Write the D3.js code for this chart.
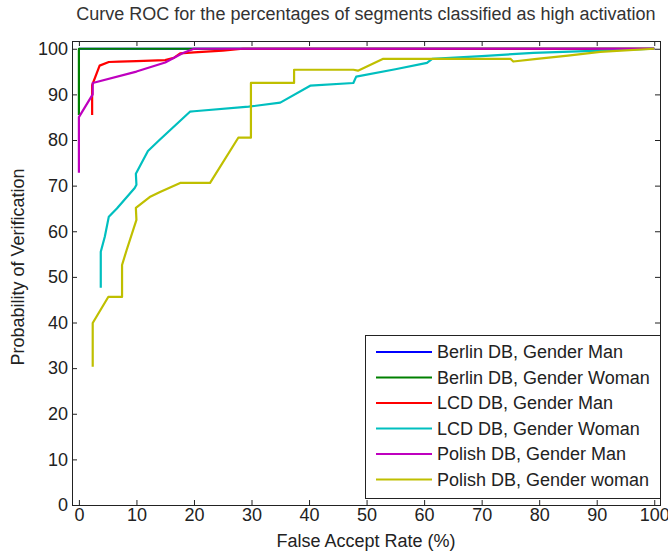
<!DOCTYPE html>
<html>
<head>
<meta charset="utf-8">
<script src="https://cdn.jsdelivr.net/npm/d3@7"></script>
<style>
  body { margin: 0; background: #fff; }
  svg { display: block; font-family: "Liberation Sans", Arial, sans-serif; }
</style>
</head>
<body>
<div id="chart"></div>
<script>
// ROC curves, percentages of segments classified as high activation.
// Values: [FAR %, probability of verification].

const seriesNames = [
  "Berlin DB, Gender Man",
  "Berlin DB, Gender Woman",
  "LCD DB, Gender Man",
  "LCD DB, Gender Woman",
  "Polish DB, Gender Man",
  "Polish DB, Gender woman",
];
const seriesColors = ["#0000ff", "#008000", "#ff0000", "#00bfbf", "#bf00bf", "#bfbf00"];

const berlinMan = [[0, 100], [100, 100]];
const berlinWoman = [[0, 85.5], [0, 100], [100, 100]];
const lcdMan = [
  [2.3, 85.5], [2.3, 92], [3.6, 96.3], [5.2, 97.1], [7, 97.2], [10, 97.3],
  [15, 97.5], [16.5, 98], [17.6, 99], [20, 99.2], [25, 99.6], [28.5, 100], [100, 100],
];
const lcdWoman = [
  [3.8, 47.6], [3.8, 55.5], [4.5, 58.8], [5.2, 63.2], [6.6, 65], [9.7, 69.5],
  [10, 70.2], [9.9, 72.6], [12, 77.6], [14, 80], [19.3, 86.2], [20, 86.3],
  [29.5, 87.3], [35, 88.2], [40.2, 91.9], [47.7, 92.5], [48.2, 93.9],
  [55, 95.5], [60.5, 96.9], [61.4, 97.8], [70, 98.4], [79, 99.1],
  [90.6, 99.6], [100, 100],
];
const polishMan = [
  [0, 72.8], [0, 85], [2.4, 90], [2.4, 92.5], [10, 95], [15, 97],
  [18, 99], [20, 100], [100, 100],
];
const polishWoman = [
  [2.4, 30.3], [2.4, 39.9], [5.1, 45.6], [7.5, 45.6], [7.5, 52.6], [8.3, 55.9],
  [10, 62.5], [9.9, 65.1], [12.3, 67.5], [14.1, 68.6], [17.6, 70.6], [22.8, 70.6],
  [27.7, 80.5], [29.9, 80.5], [29.9, 92.5], [37.4, 92.5], [37.4, 95.4],
  [47.7, 95.4], [48.5, 95.2], [52.9, 97.8], [75, 97.8], [75.5, 97.2],
  [79.6, 97.8], [85, 98.5], [90.6, 99.3], [100, 100],
];
const seriesData = [berlinMan, berlinWoman, lcdMan, lcdWoman, polishMan, polishWoman];

const xTicks = [0, 10, 20, 30, 40, 50, 60, 70, 80, 90, 100];
const yTicks = [0, 10, 20, 30, 40, 50, 60, 70, 80, 90, 100];

const width = 668, height = 551;
const plotL = 72, plotR = 660, plotT = 41, plotB = 505;

const svg = d3.select("#chart").append("svg")
  .attr("width", width)
  .attr("height", height);

const x = d3.scaleLinear().domain([-1.2, 101]).range([plotL, plotR]);
const y = d3.scaleLinear().domain([0, 101.7]).range([plotB, plotT]);

// axes: MATLAB style box, ticks pointing inward on all four sides
const styleAxis = g => {
  g.select(".domain").remove();
  g.selectAll(".tick line").attr("stroke", "#222");
  g.selectAll(".tick text").attr("fill", "#222").style("font-size", "18px")
    .style("font-family", "'Liberation Sans', Arial, sans-serif");
};

svg.append("g")
  .attr("transform", `translate(0,${plotB})`)
  .call(d3.axisBottom(x).tickValues(xTicks).tickSize(-5).tickPadding(3))
  .call(styleAxis);
svg.append("g")
  .attr("transform", `translate(0,${plotT})`)
  .call(d3.axisTop(x).tickValues(xTicks).tickSize(-5).tickFormat(""))
  .call(styleAxis);
svg.append("g")
  .attr("transform", `translate(${plotL},0)`)
  .call(d3.axisLeft(y).tickValues(yTicks).tickSize(-5).tickPadding(4))
  .call(styleAxis);
svg.append("g")
  .attr("transform", `translate(${plotR},0)`)
  .call(d3.axisRight(y).tickValues(yTicks).tickSize(-5).tickFormat(""))
  .call(styleAxis);

svg.append("rect")
  .attr("x", plotL + 0.5).attr("y", plotT + 0.5)
  .attr("width", plotR - plotL).attr("height", plotB - plotT)
  .attr("fill", "none").attr("stroke", "#222");

// curves
const line = d3.line().x(d => x(d[0])).y(d => y(d[1]));
svg.append("g").selectAll("path")
  .data(seriesData)
  .join("path")
  .attr("d", line)
  .attr("fill", "none")
  .attr("stroke", (d, i) => seriesColors[i])
  .attr("stroke-width", 2.2)
  .attr("stroke-linejoin", "round");

// legend
const lgX = 365, lgY = 335, lgW = 295, lgH = 163, rowH = 25.5;
svg.append("rect")
  .attr("x", lgX + 0.5).attr("y", lgY + 0.5)
  .attr("width", lgW).attr("height", lgH)
  .attr("fill", "#fff").attr("stroke", "#222");

const rows = svg.append("g").selectAll("g")
  .data(seriesNames)
  .join("g")
  .attr("transform", (d, i) => `translate(${lgX},${lgY + 17 + i * rowH})`);
rows.append("line")
  .attr("x1", 11).attr("x2", 67)
  .attr("stroke", (d, i) => seriesColors[i])
  .attr("stroke-width", 2.2);
rows.append("text")
  .attr("x", 72).attr("dy", "0.35em")
  .attr("fill", "#222")
  .style("font-size", "18px")
  .text(d => d);

// titles
svg.append("text")
  .attr("x", (plotL + plotR) / 2).attr("y", 20)
  .attr("text-anchor", "middle")
  .attr("fill", "#333")
  .style("font-size", "18px")
  .text("Curve ROC for the percentages of segments classified as high activation");

svg.append("text")
  .attr("x", (plotL + plotR) / 2).attr("y", 547)
  .attr("text-anchor", "middle")
  .attr("fill", "#222")
  .style("font-size", "18px")
  .text("False Accept Rate (%)");

svg.append("text")
  .attr("transform", `translate(24,${(plotT + plotB) / 2 - 6}) rotate(-90)`)
  .attr("text-anchor", "middle")
  .attr("fill", "#222")
  .style("font-size", "18px")
  .text("Probability of Verification");
</script>
</body>
</html>
